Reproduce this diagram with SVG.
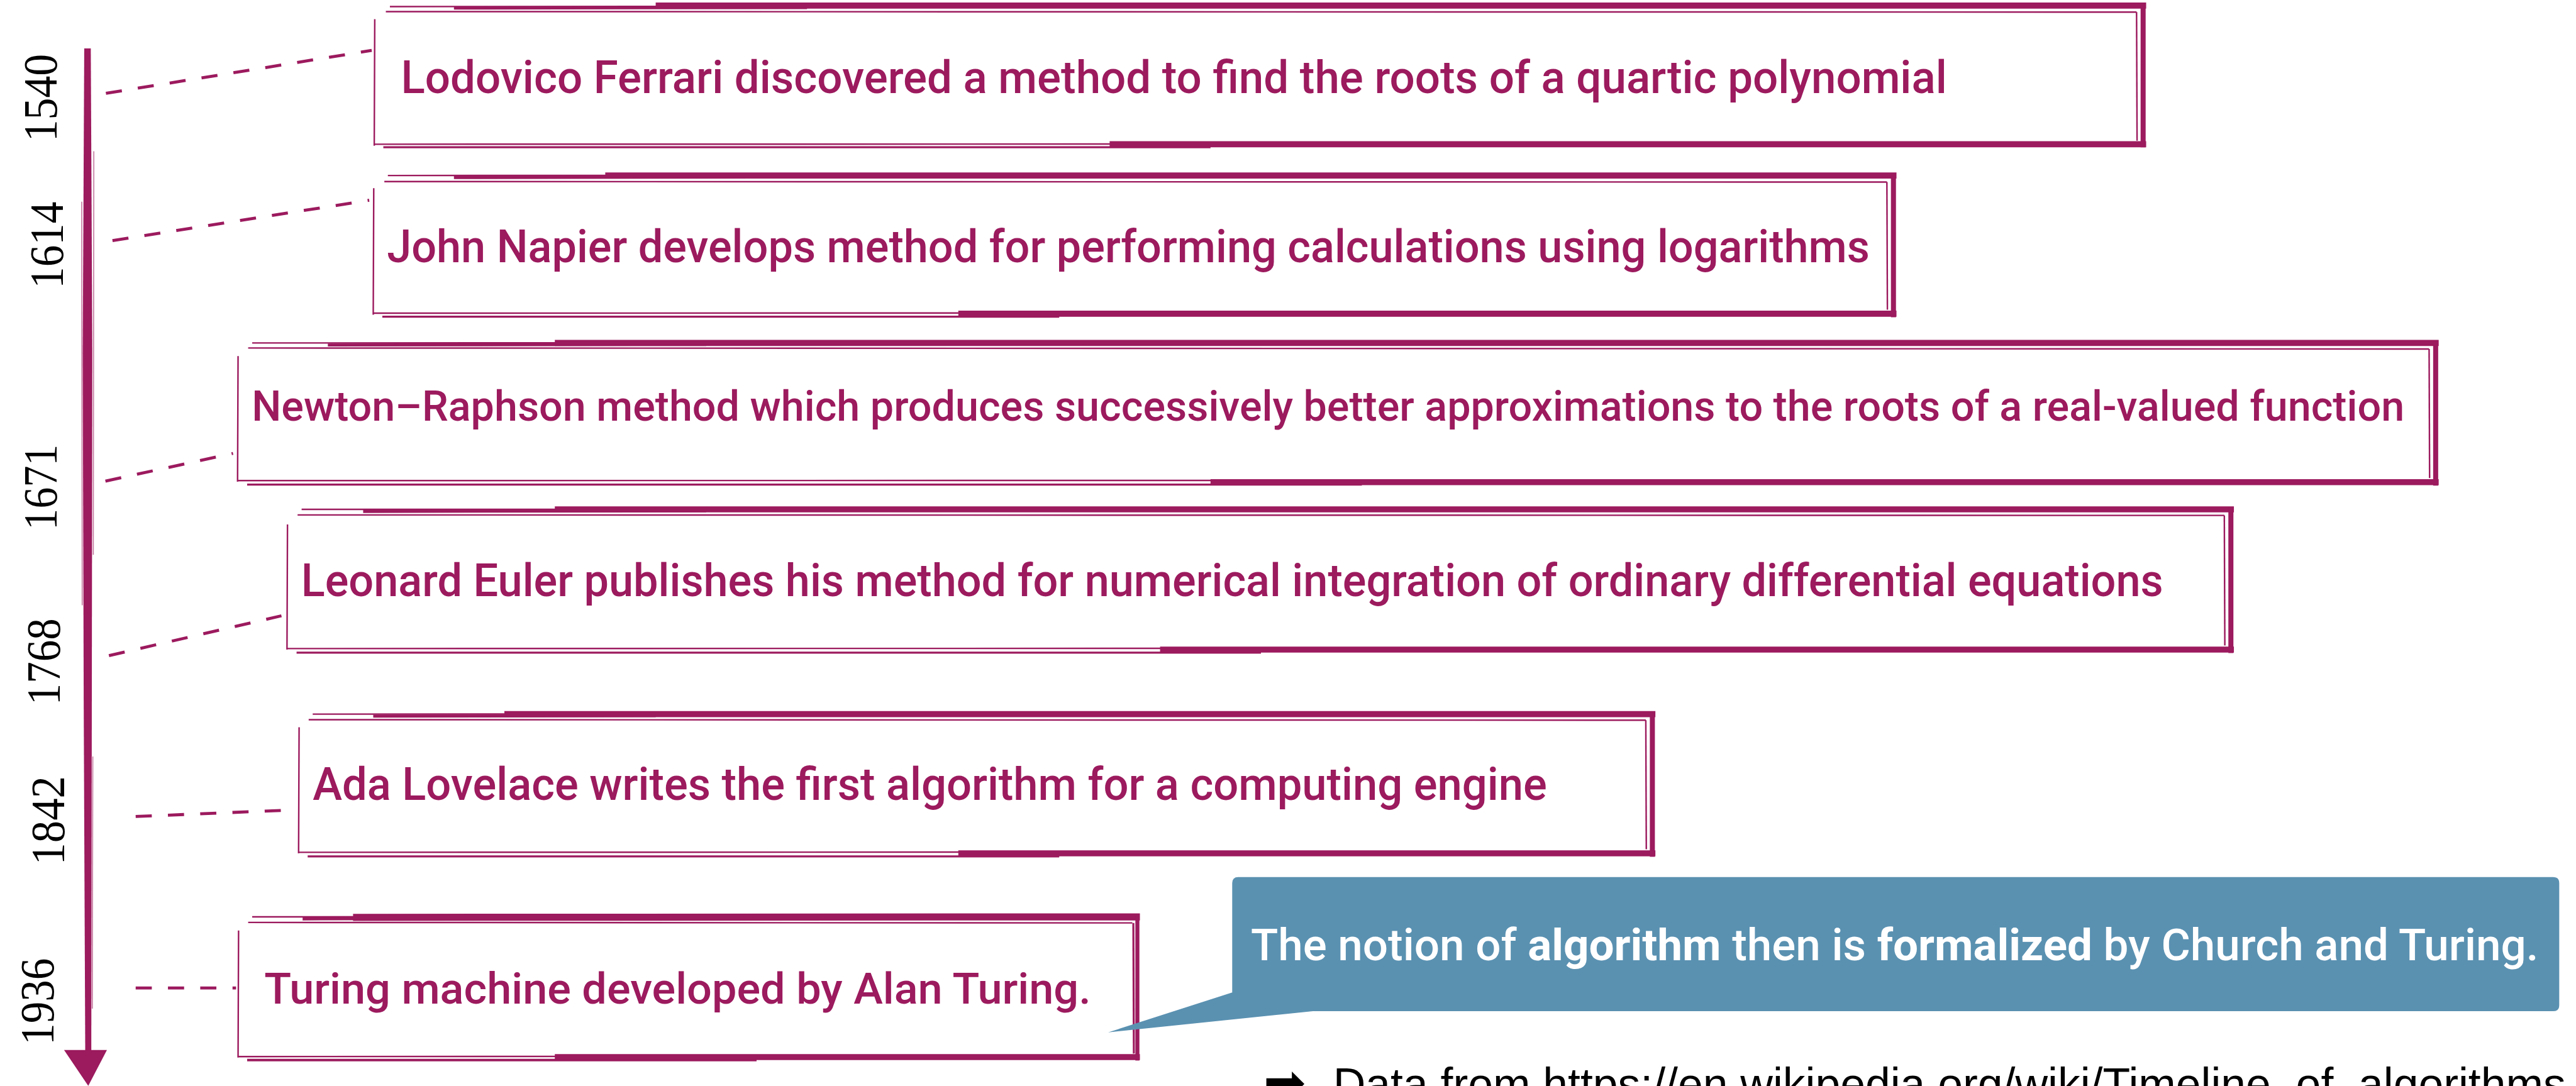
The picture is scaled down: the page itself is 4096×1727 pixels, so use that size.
<svg xmlns="http://www.w3.org/2000/svg" width="4096" height="1727" viewBox="0 0 4096 1727">
<style>
.fr{stroke:#9C1A5E;fill:none;stroke-linecap:butt}
.t{font-family:Roboto,"Liberation Sans",Arial,sans-serif;font-weight:500;fill:#9C1A5E;font-size:89px}
.yr{font-family:"Liberation Serif","Times New Roman",serif;font-size:96px;fill:#000;text-anchor:middle}
.dash{stroke:#9C1A5E;stroke-width:6;stroke-dasharray:32 32;fill:none}
.ct{font-family:Roboto,"Liberation Sans",Arial,sans-serif;font-weight:500;fill:#fff;font-size:88px}
.ct .b{font-weight:700}
.src{font-family:"Liberation Sans",Arial,sans-serif;font-size:89px;fill:#000}
</style>
<rect width="4096" height="1727" fill="#fff"/>
<g transform="scale(0.802)">
<g id="timeline">
<path d="M167,96 L180,96 L183,700 L182,1400 L181,2085 L169,2085 L166,1400 L164,700 Z" fill="#9C1A5E"/>
<path d="M162,400 L163,1200 M186,300 L185,1100 M184,1500 L183,2000" stroke="#9C1A5E" stroke-width="2" opacity="0.6" fill="none"/>
<polygon points="127,2082 212,2082 175,2153" fill="#9C1A5E"/>
</g>
<g id="years">
<text class="yr" transform="translate(112,194) rotate(-90)" textLength="174" lengthAdjust="spacingAndGlyphs">1540</text>
<text class="yr" transform="translate(125,486) rotate(-90)" textLength="172" lengthAdjust="spacingAndGlyphs">1614</text>
<text class="yr" transform="translate(112,966) rotate(-90)" textLength="170" lengthAdjust="spacingAndGlyphs">1671</text>
<text class="yr" transform="translate(118,1312) rotate(-90)" textLength="172" lengthAdjust="spacingAndGlyphs">1768</text>
<text class="yr" transform="translate(127,1627) rotate(-90)" textLength="176" lengthAdjust="spacingAndGlyphs">1842</text>
<text class="yr" transform="translate(106,1986) rotate(-90)" textLength="172" lengthAdjust="spacingAndGlyphs">1936</text>
</g>
<g id="connectors">
<line class="dash" x1="210" y1="185" x2="737" y2="100"/>
<line class="dash" x1="223" y1="477" x2="732" y2="397"/>
<line class="dash" x1="209" y1="954" x2="462" y2="899"/>
<line class="dash" x1="216" y1="1300" x2="558" y2="1221"/>
<line class="dash" x1="269" y1="1619" x2="557" y2="1607"/>
<line class="dash" x1="269" y1="1959" x2="468" y2="1959"/>
</g>
<g id="node-1540">
<path class="fr" stroke-width="3" d="M773,13 L4050,12 M765,23 L4236,24"/>
<path class="fr" stroke-width="6" d="M900,16 L1600,15"/>
<path class="fr" stroke-width="12" d="M1300,11 L4255,11"/>
<path class="fr" stroke-width="10" d="M4249,8 L4249,292"/>
<path class="fr" stroke-width="3" d="M4236,24 L4237,279"/>
<path class="fr" stroke-width="3" d="M743,38 L742,289 M742,286 L4240,285"/>
<path class="fr" stroke-width="4" d="M760,292 L2400,292"/>
<path class="fr" stroke-width="12" d="M2200,286 L4255,286"/>
<text class="t" x="795" y="184" textLength="3065" lengthAdjust="spacingAndGlyphs">Lodovico Ferrari discovered a method to find the roots of a quartic polynomial</text>
</g>
<g id="node-1614">
<path class="fr" stroke-width="3" d="M769,348 L3560,347 M762,360 L3741,361"/>
<path class="fr" stroke-width="6" d="M900,352 L1500,351"/>
<path class="fr" stroke-width="12" d="M1200,348 L3760,348"/>
<path class="fr" stroke-width="10" d="M3754,344 L3754,629"/>
<path class="fr" stroke-width="3" d="M3741,361 L3742,614"/>
<path class="fr" stroke-width="3" d="M741,373 L740,624 M740,621 L3745,620"/>
<path class="fr" stroke-width="4" d="M758,628 L2100,628"/>
<path class="fr" stroke-width="12" d="M1900,622 L3760,622"/>
<text class="t" x="767" y="520" textLength="2940" lengthAdjust="spacingAndGlyphs">John Napier develops method for performing calculations using logarithms</text>
</g>
<g id="node-1671">
<path class="fr" stroke-width="3" d="M500,680 L4600,679 M492,690 L4816,692"/>
<path class="fr" stroke-width="6" d="M650,684 L1400,683"/>
<path class="fr" stroke-width="12" d="M1100,680 L4835,680"/>
<path class="fr" stroke-width="10" d="M4829,676 L4829,963"/>
<path class="fr" stroke-width="3" d="M4816,692 L4817,948"/>
<path class="fr" stroke-width="3" d="M472,706 L471,955 M471,953 L4820,952"/>
<path class="fr" stroke-width="4" d="M490,961 L2700,961"/>
<path class="fr" stroke-width="12" d="M2400,956 L4835,956"/>
<text class="t" x="499" y="834" textLength="4268" lengthAdjust="spacingAndGlyphs" style="font-size:84px">Newton–Raphson method which produces successively better approximations to the roots of a real-valued function</text>
</g>
<g id="node-1768">
<path class="fr" stroke-width="3" d="M598,1010 L4250,1009 M590,1021 L4410,1022"/>
<path class="fr" stroke-width="6" d="M720,1014 L1400,1013"/>
<path class="fr" stroke-width="12" d="M1100,1010 L4429,1010"/>
<path class="fr" stroke-width="10" d="M4423,1006 L4423,1295"/>
<path class="fr" stroke-width="3" d="M4410,1022 L4411,1280"/>
<path class="fr" stroke-width="3" d="M570,1040 L569,1288 M569,1286 L4414,1285"/>
<path class="fr" stroke-width="4" d="M588,1294 L2500,1294"/>
<path class="fr" stroke-width="12" d="M2300,1288 L4429,1288"/>
<text class="t" x="597" y="1182" textLength="3692" lengthAdjust="spacingAndGlyphs">Leonard Euler publishes his method for numerical integration of ordinary differential equations</text>
</g>
<g id="node-1842">
<path class="fr" stroke-width="3" d="M620,1416 L3100,1415 M612,1427 L3263,1428"/>
<path class="fr" stroke-width="6" d="M740,1420 L1300,1419"/>
<path class="fr" stroke-width="12" d="M1000,1416 L3282,1416"/>
<path class="fr" stroke-width="10" d="M3276,1412 L3276,1699"/>
<path class="fr" stroke-width="3" d="M3263,1428 L3264,1684"/>
<path class="fr" stroke-width="3" d="M593,1442 L592,1692 M592,1690 L3267,1689"/>
<path class="fr" stroke-width="4" d="M610,1698 L2100,1698"/>
<path class="fr" stroke-width="12" d="M1900,1692 L3282,1692"/>
<text class="t" x="620" y="1586" textLength="2447" lengthAdjust="spacingAndGlyphs">Ada Lovelace writes the first algorithm for a computing engine</text>
</g>
<g id="node-1936">
<path class="fr" stroke-width="3" d="M500,1818 L2150,1817 M492,1829 L2245,1830"/>
<path class="fr" stroke-width="6" d="M600,1822 L1100,1821"/>
<path class="fr" stroke-width="14" d="M700,1819 L2260,1818"/>
<path class="fr" stroke-width="8" d="M2255,1814 L2255,2103"/>
<path class="fr" stroke-width="4" d="M2247,1830 L2248,2089"/>
<path class="fr" stroke-width="3" d="M473,1845 L472,2097 M472,2095 L2250,2094"/>
<path class="fr" stroke-width="5" d="M490,2102 L1500,2102"/>
<path class="fr" stroke-width="12" d="M1100,2096 L2260,2096"/>
<text class="t" x="524" y="1990" textLength="1639" lengthAdjust="spacingAndGlyphs" style="font-size:86px">Turing machine developed by Alan Turing.</text>
</g>
<g id="callout">
<path d="M2455,1739 H5062 Q5074,1739 5074,1751 V1993 Q5074,2005 5062,2005 H2603 L2197,2047 L2443,1968 V1751 Q2443,1739 2455,1739 Z" fill="#5A91B1"/>
<text class="ct" x="2480" y="1904" textLength="2553" lengthAdjust="spacingAndGlyphs">The notion of <tspan class="b">algorithm</tspan> then is <tspan class="b">formalized</tspan> by Church and Turing.</text>
</g>
<g id="source">
<text x="2505" y="2181" style="font-family:'DejaVu Sans',sans-serif;font-size:100px;fill:#000">➡</text>
<text class="src" x="2643" y="2181" textLength="2444" lengthAdjust="spacingAndGlyphs">Data from https://en.wikipedia.org/wiki/Timeline_of_algorithms</text>
</g>
</g>
</svg>
